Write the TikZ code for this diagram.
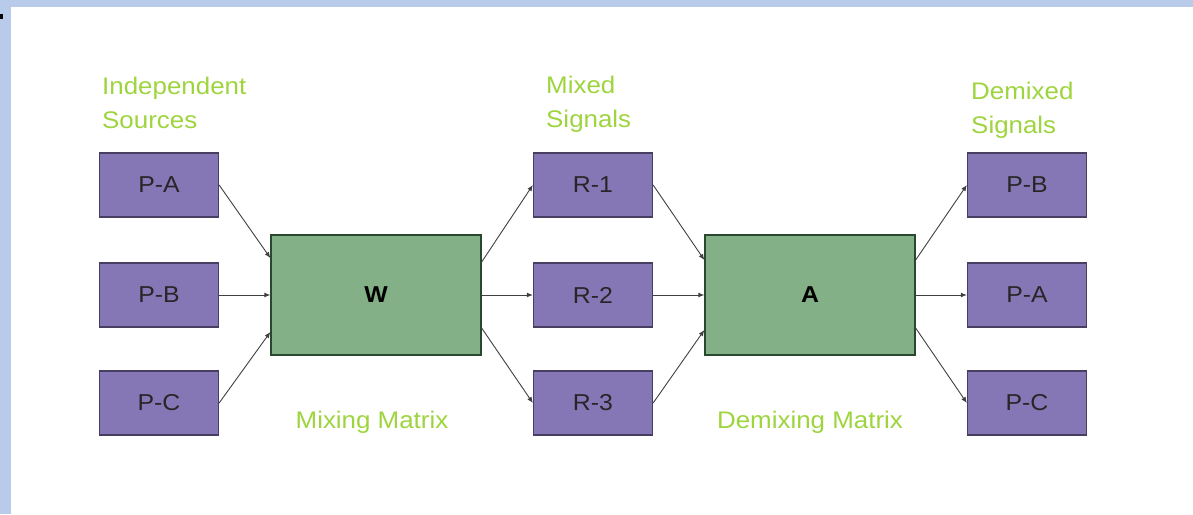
\documentclass[tikz,border=0pt]{standalone}
\usepackage{fontspec}
\usetikzlibrary{arrows.meta}
\setmainfont{Liberation Sans}
\newfontfamily\lblfont[FakeStretch=1.08]{Liberation Sans}
\definecolor{frameblue}{RGB}{185,203,235}
\definecolor{srcfill}{RGB}{133,118,182}
\definecolor{srcdraw}{RGB}{72,62,98}
\definecolor{matfill}{RGB}{132,176,135}
\definecolor{matdraw}{RGB}{42,72,46}
\definecolor{lblgreen}{RGB}{158,212,62}
\tikzset{
  sig/.style={draw=srcdraw, fill=srcfill, line width=1.3pt, minimum width=119pt,
    minimum height=64pt, font=\lblfont\fontsize{23}{26}\selectfont, text=black!85},
  mat/.style={draw=matdraw, fill=matfill, line width=1.3pt, minimum width=210pt,
    minimum height=120pt, font=\lblfont\bfseries\fontsize{23}{26}\selectfont},
  lbl/.style={text=lblgreen, inner sep=0pt, font=\lblfont\fontsize{24}{34}\selectfont},
  link/.style={->, draw=black!75, line width=0.9pt},
}
\begin{document}
\begin{tikzpicture}[x=1pt, y=-1pt, node distance=217pt, auto, >={Latex[length=6pt,width=5pt]}]
            \useasboundingbox (0,0) rectangle (1193,514);
            \fill[frameblue] (0,0) rectangle (1193,7);
            \fill[frameblue] (0,0) rectangle (11,514);
            \fill[black] (0,14) rectangle (3,19);
            % sources
            \node[sig](PA) at (159,185) {P-A};
            \node[sig](PB) [below of=PA, node distance=110pt] {P-B};
            \node[sig](PC) [below of=PB, node distance=108pt] {P-C};
            \node[mat](W) [right of=PB] {W};
            % mixed signals
            \node[sig](R2) [right of=W] {R-2};
            \node[sig](R1) [above of=R2, node distance=110pt] {R-1};
            \node[sig](R3) [below of=R2, node distance=108pt] {R-3};
            \node[mat](A) [right of=R2] {A};
            % demixed signals
            \node[sig](DA) [right of=A] {P-A};
            \node[sig](DB) [above of=DA, node distance=110pt] {P-B};
            \node[sig](DC) [below of=DA, node distance=108pt] {P-C};
            % labels
            \node[lbl, align=left, anchor=base west](srclbl) at (102,128) {Independent\\Sources};
            \node[lbl, align=left, anchor=base west](mixlbl) at (546,127) {Mixed\\Signals};
            \node[lbl, align=left, anchor=base west](demixlbl) at (971,133) {Demixed\\Signals};
            \node[lbl, anchor=base](wlbl) at (372,428) {Mixing Matrix};
            \node[lbl, anchor=base](albl) at (810,428) {Demixing Matrix};
            % arrows
            \draw[link](PA.east) to ([yshift=37pt]W.west);
            \draw[link](PB) to (W);
            \draw[link](PC.east) to ([yshift=-37pt]W.west);
            \draw[link]([yshift=33pt]W.east) to (R1.west);
            \draw[link](W) to (R2);
            \draw[link]([yshift=-33pt]W.east) to (R3.west);
            \draw[link](R1.east) to ([yshift=35pt]A.west);
            \draw[link](R2) to (A);
            \draw[link](R3.east) to ([yshift=-35pt]A.west);
            \draw[link]([yshift=35pt]A.east) to (DB.west);
            \draw[link](A) to (DA);
            \draw[link]([yshift=-33pt]A.east) to (DC.west);
            \end{tikzpicture}
\end{document}
